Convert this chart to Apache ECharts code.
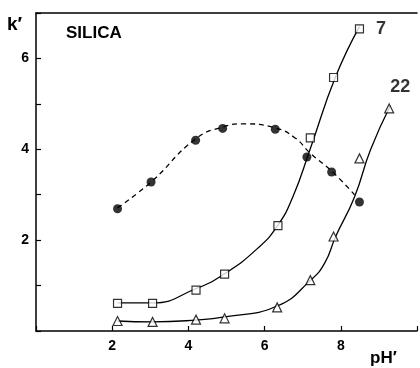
<!DOCTYPE html>
<html>
<head>
<meta charset="utf-8">
<script src="https://cdn.jsdelivr.net/npm/echarts@6/dist/echarts.min.js"></script>
<style>
  html, body { margin: 0; padding: 0; background: #fff; }
  #chart { width: 420px; height: 368px; }
</style>
</head>
<body>
<div id="chart"></div>
<script>
const circlePH = [2.14, 3.02, 4.19, 4.9, 6.28, 7.11, 7.76, 8.49];
const circleK = [2.69, 3.28, 4.2, 4.46, 4.44, 3.83, 3.5, 2.84];

const squarePH = [2.14, 3.06, 4.2, 4.95, 6.35, 7.2, 7.81, 8.49];
const squareK = [0.61, 0.61, 0.9, 1.25, 2.32, 4.25, 5.58, 6.65];

const trianglePH = [2.14, 3.06, 4.2, 4.95, 6.33, 7.2, 7.81, 8.49, 9.27];
const triangleK = [0.22, 0.2, 0.25, 0.28, 0.52, 1.12, 2.08, 3.8, 4.9];

// hand-drawn fitted curves (they don't pass exactly through the markers)
const dashCurvePH = [2.14, 3.02, 4.19, 4.9, 5.44, 6.28, 6.8, 7.19, 7.76, 8.36];
const dashCurveK = [2.71, 3.28, 4.23, 4.49, 4.56, 4.47, 4.25, 3.92, 3.52, 3.0];

const curve7PH = [2.14, 3.05, 4.19, 4.95, 5.83, 6.35, 6.74, 7.19, 7.86, 8.49];
const curve7K = [0.62, 0.62, 0.93, 1.26, 1.83, 2.33, 2.95, 3.99, 5.59, 6.7];

const curve22PH = [2.14, 3.05, 4.19, 4.95, 6.33, 7.21, 7.58, 7.86, 8.36, 8.78, 9.3];
const curve22K = [0.22, 0.2, 0.24, 0.31, 0.55, 1.12, 1.5, 2.07, 2.95, 3.99, 4.96];

const xTickLabels = [2, 4, 6, 8];
const yTickLabels = [2, 4, 6];

const FONT = '"Liberation Sans", Arial, "DejaVu Sans", sans-serif';

const pairs = (xs, ys) => xs.map((x, i) => [x, ys[i]]);

// put a text label on the last point of a series
const withEndLabel = (data, text, position, offset) => data.map((d, i) => {
  if (i !== data.length - 1) return d;
  return {
    value: d,
    label: {
      show: true,
      formatter: text,
      position: position,
      offset: offset,
      color: '#000',
      fontFamily: FONT,
      fontWeight: 'bold',
      fontSize: 18
    }
  };
});

const curve = (xs, ys, dashed) => ({
  type: 'line',
  data: pairs(xs, ys),
  smooth: 0.5,
  symbol: 'none',
  silent: true,
  lineStyle: { color: '#000', width: 1.3, type: dashed ? [5, 4] : 'solid' },
  z: 2
});

const chart = echarts.init(document.getElementById('chart'), null, { renderer: 'canvas' });

const option = {
  animation: false,
  backgroundColor: '#fff',
  grid: { left: 36, top: 13, width: 384, height: 318 },
  xAxis: [
    {
      type: 'value',
      min: 0,
      max: 10,
      interval: 2,
      axisLine: { show: true, lineStyle: { color: '#000', width: 1.5 } },
      axisTick: { show: true, inside: true, length: 5, lineStyle: { color: '#000', width: 1.2 } },
      axisLabel: {
        color: '#000',
        fontFamily: FONT,
        fontWeight: 'bold',
        fontSize: 14,
        margin: 8,
        formatter: v => (xTickLabels.includes(v) ? String(v) : '')
      },
      splitLine: { show: false }
    },
    {
      type: 'value',
      position: 'top',
      min: 0,
      max: 10,
      axisLine: { show: true, onZero: false, lineStyle: { color: '#000', width: 1.5 } },
      axisTick: { show: false },
      axisLabel: { show: false },
      splitLine: { show: false }
    }
  ],
  yAxis: {
    type: 'value',
    min: 0,
    max: 7,
    interval: 1,
    axisLine: { show: true, lineStyle: { color: '#000', width: 1.5 } },
    axisTick: { show: true, inside: true, length: 5, lineStyle: { color: '#000', width: 1.2 } },
    axisLabel: {
      color: '#000',
      fontFamily: FONT,
      fontWeight: 'bold',
      fontSize: 14,
      margin: 7,
      formatter: v => (yTickLabels.includes(v) ? String(v) : '')
    },
    splitLine: { show: false }
  },
  graphic: [
    { type: 'text', left: 7, top: 15, style: { text: 'k\u2032', font: 'bold 19px ' + FONT, fill: '#000' } },
    { type: 'text', left: 66, top: 25, style: { text: 'SILICA', font: 'bold 17px ' + FONT, fill: '#000' } },
    { type: 'text', left: 370, top: 350, style: { text: 'pH\u2032', font: 'bold 17px ' + FONT, fill: '#000' } }
  ],
  series: [
    curve(dashCurvePH, dashCurveK, true),
    curve(curve7PH, curve7K, false),
    curve(curve22PH, curve22K, false),
    {
      name: 'circles',
      type: 'scatter',
      data: pairs(circlePH, circleK),
      symbol: 'circle',
      symbolSize: 9,
      itemStyle: { color: '#000' },
      z: 4
    },
    {
      name: '7',
      type: 'scatter',
      data: withEndLabel(pairs(squarePH, squareK), '7', 'right', [7, 0]),
      symbol: 'rect',
      symbolSize: 8,
      itemStyle: { color: '#fff', borderColor: '#000', borderWidth: 1.2 },
      z: 4
    },
    {
      name: '22',
      type: 'scatter',
      data: withEndLabel(pairs(trianglePH, triangleK), '22', 'top', [11, -2]),
      symbol: 'triangle',
      symbolSize: 9,
      itemStyle: { color: '#fff', borderColor: '#000', borderWidth: 1.2 },
      z: 4
    }
  ]
};

chart.setOption(option);
</script>
</body>
</html>
